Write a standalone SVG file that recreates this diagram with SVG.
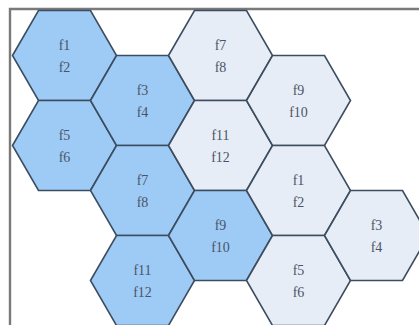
<svg xmlns="http://www.w3.org/2000/svg" width="419" height="325" viewBox="0 0 419 325">
<style>
.hex{stroke:#3d4d60;stroke-width:1.6;stroke-linejoin:miter}
.blue{fill:#9dcbf6}
.light{fill:#e7edf7}
.t{font-family:"Liberation Serif","Times New Roman",serif;font-size:14px;fill:#4b5466;text-anchor:middle}
.frame{fill:none;stroke:#7a7a7a;stroke-width:2.4}
</style>
<defs>
<polygon id="hx" points="-52,0 -26,-45 26,-45 52,0 26,45 -26,45"/>
</defs>
<rect width="419" height="325" fill="#ffffff"/>
<path class="frame" d="M10,325 V9 H419"/>
<g id="connectors"></g>
<g id="n1" transform="translate(64.5,55.5)"><use href="#hx" class="hex blue"/><text class="t" y="-6">f1</text><text class="t" y="16">f2</text></g>
<g id="n2" transform="translate(64.5,145.5)"><use href="#hx" class="hex blue"/><text class="t" y="-6">f5</text><text class="t" y="16">f6</text></g>
<g id="n3" transform="translate(142.5,100.5)"><use href="#hx" class="hex blue"/><text class="t" y="-6">f3</text><text class="t" y="16">f4</text></g>
<g id="n4" transform="translate(142.5,190.5)"><use href="#hx" class="hex blue"/><text class="t" y="-6">f7</text><text class="t" y="16">f8</text></g>
<g id="n5" transform="translate(142.5,280.5)"><use href="#hx" class="hex blue"/><text class="t" y="-6">f11</text><text class="t" y="16">f12</text></g>
<g id="n6" transform="translate(220.5,55.5)"><use href="#hx" class="hex light"/><text class="t" y="-6">f7</text><text class="t" y="16">f8</text></g>
<g id="n7" transform="translate(220.5,145.5)"><use href="#hx" class="hex light"/><text class="t" y="-6">f11</text><text class="t" y="16">f12</text></g>
<g id="n8" transform="translate(220.5,235.5)"><use href="#hx" class="hex blue"/><text class="t" y="-6">f9</text><text class="t" y="16">f10</text></g>
<g id="n9" transform="translate(298.5,100.5)"><use href="#hx" class="hex light"/><text class="t" y="-6">f9</text><text class="t" y="16">f10</text></g>
<g id="n10" transform="translate(298.5,190.5)"><use href="#hx" class="hex light"/><text class="t" y="-6">f1</text><text class="t" y="16">f2</text></g>
<g id="n11" transform="translate(298.5,280.5)"><use href="#hx" class="hex light"/><text class="t" y="-6">f5</text><text class="t" y="16">f6</text></g>
<g id="n12" transform="translate(376.5,235.5)"><use href="#hx" class="hex light"/><text class="t" y="-6">f3</text><text class="t" y="16">f4</text></g>
</svg>
